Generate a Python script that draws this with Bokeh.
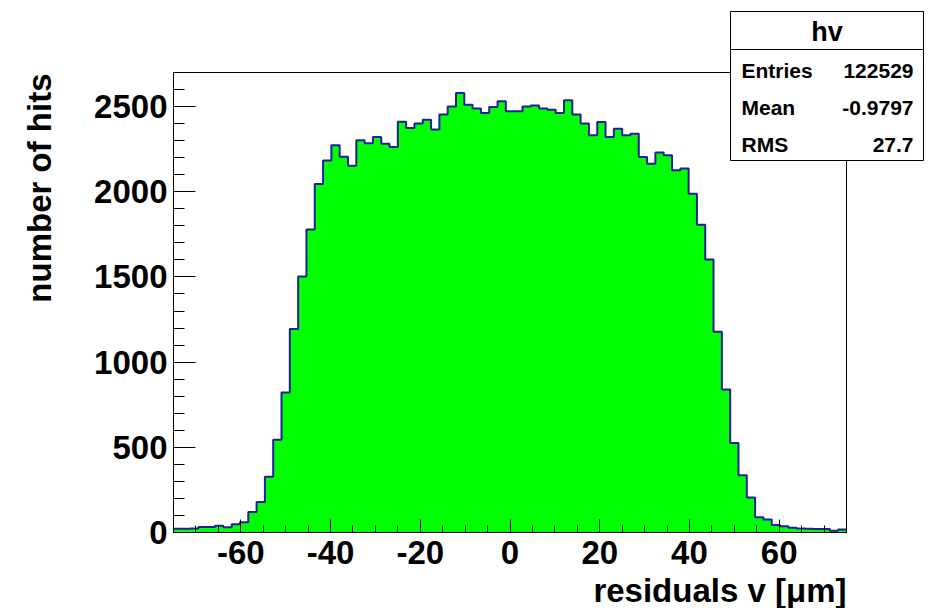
import numpy as np
from bokeh.plotting import figure
from bokeh.models import (Range1d, SingleIntervalTicker, Label, BoxAnnotation,
                          PrintfTickFormatter)
from bokeh.embed import file_html
from bokeh.resources import INLINE

# ---------------- data ----------------
hist_name = "hv"
x_min, x_max = -75.0, 75.0
n_bins = 81
counts = [22, 22, 23, 32, 32, 40, 31, 49, 60, 120, 179,
          327, 544, 822, 1194, 1503, 1778, 2046, 2183, 2273, 2206,
          2153, 2302, 2284, 2321, 2282, 2263, 2411, 2374, 2400, 2423,
          2365, 2453, 2501, 2580, 2511, 2488, 2462, 2497, 2531, 2472,
          2472, 2500, 2507, 2488, 2482, 2462, 2537, 2453, 2400, 2331,
          2409, 2321, 2370, 2331, 2341, 2204, 2165, 2230, 2214, 2126,
          2136, 1989, 1807, 1603, 1178, 839, 525, 336, 206, 89,
          77, 44, 36, 28, 24, 22, 21, 20, 10, 18]
stat_names = ["Entries", "Mean", "RMS"]
stat_values = ["122529", "-0.9797", "27.7"]
x_title = "residuals v [\u03bcm]"
y_title = "number of hits"
y_min, y_max = 0, 2700

edges = np.linspace(x_min, x_max, n_bins + 1)
step_x = list(edges)
step_y = counts + [counts[-1]]

# ---------------- layout (pixels) ----------------
W, H = 930, 608
FL, FR, FT, FB = 173, 846, 72, 532   # ROOT frame in canvas pixels
sx = (FR - FL) / (x_max - x_min)     # px per x unit
sy = (FB - FT) / (y_max - y_min)     # px per y unit

def dx(px):
    return x_min + (px - FL) / sx

def dy(py):
    return y_min + (FB - py) / sy

p = figure(width=W, height=H,
           x_range=Range1d(dx(0), dx(W)), y_range=Range1d(dy(H), dy(0)),
           output_backend="svg", toolbar_location=None,
           min_border=0, min_border_left=0, min_border_right=0,
           min_border_top=0, min_border_bottom=0)
p.title.visible = False
p.grid.visible = False
p.outline_line_color = None
p.background_fill_color = "white"
p.border_fill_color = "white"

FONT = "Liberation Sans"

p.varea_step(x=step_x, y1=0, y2=step_y, step_mode="after", fill_color="#00ff00")
p.step(x=step_x, y=step_y, mode="after", line_color="#1f1f9c", line_width=2)

xa = p.xaxis[0]
xa.fixed_location = y_min
xa.bounds = (x_min, x_max)
xa.ticker = SingleIntervalTicker(interval=20, num_minor_ticks=4)
xa.major_tick_in = 13
xa.major_tick_out = 0
xa.minor_tick_in = 7
xa.minor_tick_out = 0
xa.major_label_standoff = 8

ya = p.yaxis[0]
ya.fixed_location = x_min
ya.bounds = (y_min, y_max)
ya.ticker = SingleIntervalTicker(interval=500, num_minor_ticks=5)
ya.major_tick_in = 22
ya.major_tick_out = 0
ya.minor_tick_in = 11
ya.minor_tick_out = 0
ya.major_label_standoff = 6

for ax in (xa, ya):
    ax.formatter = PrintfTickFormatter(format="%d")
    ax.axis_line_color = "black"
    ax.major_tick_line_color = "black"
    ax.minor_tick_line_color = "black"
    ax.major_label_text_font = FONT
    ax.major_label_text_font_size = "33px"
    ax.major_label_text_font_style = "bold"
    ax.major_label_text_color = "black"

# ROOT frame
p.add_layout(BoxAnnotation(left=x_min, right=x_max, bottom=y_min, top=y_max,
                           fill_color=None, line_color="black", line_width=1,
                           line_alpha=1.0))

# axis titles
p.add_layout(Label(x=x_max, y=dy(590), text=x_title, text_align="right",
                   text_baseline="middle", text_font=FONT, text_font_size="33px",
                   text_font_style="bold", text_color="black"))
p.add_layout(Label(x=dx(39), y=dy(73), text=y_title, angle=np.pi / 2,
                   text_align="right", text_baseline="middle", text_font=FONT,
                   text_font_size="33px", text_font_style="bold", text_color="black"))

# stats box
bl, br, bt, bb, bsep = 730, 923, 11, 160, 49
p.add_layout(BoxAnnotation(left=dx(bl), right=dx(br), top=dy(bt), bottom=dy(bb),
                           fill_color="white", fill_alpha=1.0, line_color="black",
                           line_width=1, line_alpha=1.0))
p.add_layout(BoxAnnotation(left=dx(bl), right=dx(br), top=dy(bt), bottom=dy(bsep),
                           fill_color="white", fill_alpha=1.0, line_color="black",
                           line_width=1, line_alpha=1.0))
p.add_layout(Label(x=dx((bl + br) / 2), y=dy(31), text=hist_name, text_align="center",
                   text_baseline="middle", text_font=FONT, text_font_size="27px",
                   text_font_style="bold", text_color="black"))
row_y = [70, 107, 144]
for name, val, ry in zip(stat_names, stat_values, row_y):
    p.add_layout(Label(x=dx(741), y=dy(ry), text=name, text_align="left",
                       text_baseline="middle", text_font=FONT, text_font_size="21px",
                       text_font_style="bold", text_color="black"))
    p.add_layout(Label(x=dx(913), y=dy(ry), text=val, text_align="right",
                       text_baseline="middle", text_font=FONT, text_font_size="21px",
                       text_font_style="bold", text_color="black"))

open("out.html", "w").write(file_html(p, INLINE))
